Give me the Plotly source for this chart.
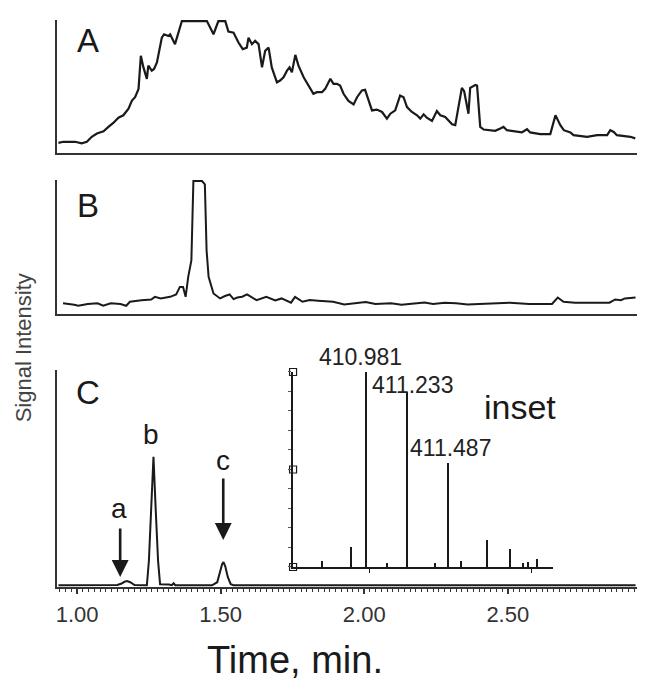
import plotly.graph_objects as go

# ---- data ----

# panel A: total ion trace (time in min, intensity in % of panel height)
time_a = [0.935, 0.952, 0.993, 1.016, 1.034, 1.051, 1.069, 1.092, 1.109, 1.126,
          1.144, 1.161, 1.179, 1.191, 1.202, 1.214, 1.222, 1.231, 1.243, 1.248,
          1.260, 1.268, 1.278, 1.283, 1.295, 1.303, 1.318, 1.324, 1.341, 1.365,
          1.452, 1.475, 1.492, 1.516, 1.527, 1.545, 1.562, 1.577, 1.591, 1.597,
          1.609, 1.620, 1.632, 1.644, 1.655, 1.667, 1.678, 1.696, 1.707, 1.719,
          1.731, 1.740, 1.748, 1.760, 1.771, 1.789, 1.806, 1.823, 1.835, 1.853,
          1.864, 1.882, 1.893, 1.905, 1.916, 1.928, 1.945, 1.963, 1.975, 1.992,
          2.003, 2.015, 2.027, 2.044, 2.062, 2.079, 2.091, 2.108, 2.125, 2.137,
          2.149, 2.166, 2.184, 2.195, 2.207, 2.218, 2.236, 2.253, 2.265, 2.282,
          2.306, 2.317, 2.329, 2.340, 2.348, 2.363, 2.369, 2.387, 2.393, 2.404,
          2.416, 2.456, 2.474, 2.485, 2.497, 2.549, 2.567, 2.578, 2.613, 2.648,
          2.666, 2.683, 2.695, 2.718, 2.729, 2.776, 2.811, 2.846, 2.857, 2.869,
          2.880, 2.903, 2.927, 2.944]
intensity_a = [7.7, 8.5, 8.5, 7.3, 8.5, 12.3, 14.8, 16.5, 19.8, 22.8,
               26.8, 28.6, 33.6, 39.8, 42.3, 48.6, 73.7, 64.9, 56.2, 66.2,
               62.4, 63.7, 68.6, 73.7, 87.4, 90.0, 88.7, 90.0, 82.5, 100,
               100, 90.0, 100, 100, 92.0, 91.2, 83.7, 78.7, 79.9, 87.4,
               82.5, 85.0, 82.5, 64.9, 77.4, 79.9, 64.9, 53.6, 54.9, 57.4,
               62.4, 64.9, 61.1, 74.4, 66.2, 57.4, 51.1, 44.9, 46.1, 46.1,
               48.6, 56.2, 52.4, 52.4, 51.1, 44.9, 39.5, 36.8, 42.3, 47.4,
               47.9, 39.8, 32.3, 32.9, 31.1, 26.1, 29.8, 32.3, 43.6, 42.3,
               34.8, 31.1, 28.6, 26.1, 29.3, 26.8, 24.3, 31.8, 28.6, 27.3,
               21.8, 21.1, 34.8, 49.4, 46.8, 29.8, 49.4, 51.6, 51.1, 19.8,
               17.8, 16.8, 18.6, 19.8, 17.3, 15.6, 18.0, 15.6, 14.3, 14.3,
               28.6, 21.1, 17.3, 15.6, 13.5, 12.3, 13.5, 13.5, 17.3, 16.0,
               13.5, 13.0, 12.3, 11.1]

# panel B: extracted ion trace
time_b = [0.951, 0.977, 0.990, 1.004, 1.020, 1.037, 1.071, 1.091, 1.117, 1.151,
          1.171, 1.184, 1.224, 1.258, 1.271, 1.291, 1.324, 1.345, 1.358, 1.369,
          1.378, 1.387, 1.398, 1.405, 1.435, 1.445, 1.451, 1.458, 1.475, 1.498,
          1.515, 1.531, 1.545, 1.558, 1.575, 1.592, 1.625, 1.659, 1.690, 1.712,
          1.745, 1.759, 1.785, 1.810, 1.839, 1.892, 1.930, 1.972, 2.005, 2.039,
          2.093, 2.130, 2.173, 2.210, 2.240, 2.280, 2.320, 2.360, 2.400, 2.450,
          2.507, 2.574, 2.654, 2.674, 2.694, 2.734, 2.801, 2.854, 2.874, 2.894,
          2.908, 2.945]
intensity_b = [8.0, 7.5, 7.0, 6.2, 7.0, 7.5, 8.0, 6.2, 8.0, 7.5,
               6.2, 9.2, 10.4, 10.9, 12.9, 11.7, 12.9, 14.7, 20.4, 20.4,
               12.9, 27.9, 40.3, 100, 100, 97.5, 47.8, 27.9, 15.4, 11.7,
               13.5, 14.7, 11.2, 12.4, 13.0, 14.7, 10.4, 12.9, 10.2, 11.7,
               8.5, 12.9, 9.2, 10.5, 10.0, 9.2, 7.2, 8.5, 9.0, 7.5,
               8.0, 7.0, 8.0, 8.6, 7.5, 8.4, 8.0, 7.2, 7.5, 8.2,
               8.5, 7.5, 7.5, 12.4, 9.2, 8.5, 8.5, 8.5, 10.9, 10.4,
               11.7, 12.4]

# panel C: MRM trace with peaks a, b, c
time_c = [0.935, 1.100, 1.140, 1.155, 1.165, 1.174, 1.185, 1.200, 1.243, 1.250,
          1.258, 1.266, 1.274, 1.282, 1.289, 1.300, 1.320, 1.330, 1.336, 1.342,
          1.470, 1.488, 1.497, 1.505, 1.510, 1.516, 1.525, 1.535, 1.545, 2.945]
intensity_c = [0.8, 0.8, 0.9, 1.6, 2.4, 2.7, 2.2, 0.9, 0.8, 12.0,
               35.0, 60.0, 35.0, 12.0, 1.3, 1.3, 1.1, 0.8, 1.7, 0.8,
               0.8, 2.2, 6.5, 10.5, 11.5, 9.5, 4.5, 1.3, 0.8, 0.8]

# inset: mass spectrum
inset_mz = [410.710, 410.888, 410.981, 411.110, 411.233, 411.410, 411.487,
            411.570, 411.730, 411.870, 411.950, 411.980, 412.040]
inset_intensity = [3, 10, 100, 2, 89.7, 2, 53.3, 3, 14, 9, 2, 2.5, 4]
inset_marker_levels = [0, 50, 100]

INK = "#1a1a1a"
AXIS = "#333333"
FONT = "Liberation Sans, Arial, sans-serif"

fig = go.Figure()

fig.add_trace(go.Scatter(x=time_a, y=intensity_a, mode="lines",
                         line=dict(color=INK, width=2.2), xaxis="x", yaxis="y"))
fig.add_trace(go.Scatter(x=time_b, y=intensity_b, mode="lines",
                         line=dict(color=INK, width=2.0), xaxis="x2", yaxis="y2"))
fig.add_trace(go.Scatter(x=time_c, y=intensity_c, mode="lines",
                         line=dict(color=INK, width=2.0), xaxis="x3", yaxis="y3"))

# inset spectrum sticks
fig.add_trace(go.Bar(x=inset_mz, y=inset_intensity, width=0.008,
                     marker=dict(color=INK, line=dict(width=0)),
                     xaxis="x4", yaxis="y4"))
fig.add_trace(go.Scatter(x=[410.53] * len(inset_marker_levels), y=inset_marker_levels,
                         mode="markers", cliponaxis=False,
                         marker=dict(symbol="square-open", size=7,
                                     color=INK, line=dict(width=1.2)),
                         xaxis="x4", yaxis="y4"))

t_range = [0.93, 2.95]
base_x = dict(range=t_range, showgrid=False, zeroline=False, showline=True,
              linecolor=AXIS, linewidth=2, fixedrange=True)
base_y = dict(showgrid=False, zeroline=False, showline=True, linecolor=AXIS,
              linewidth=2, showticklabels=False, ticks="", fixedrange=True)

# page body has an 8px margin, so the figure is sized/offset to fit the window
fig.update_layout(
    width=636, height=673,
    margin=dict(l=49, r=7, t=12, b=94),
    paper_bgcolor="white", plot_bgcolor="white",
    showlegend=False,
    font=dict(family=FONT, color=INK),
    bargap=0,
    xaxis=dict(base_x, anchor="y", showticklabels=False, ticks=""),
    yaxis=dict(base_y, domain=[0.7654, 1.0], range=[0, 100.8], anchor="x"),
    xaxis2=dict(base_x, anchor="y2", showticklabels=False, ticks=""),
    yaxis2=dict(base_y, domain=[0.4815, 0.7178], range=[0, 100.8], anchor="x2"),
    xaxis3=dict(base_x, anchor="y3", tickmode="linear", tick0=1.0, dtick=0.5,
                tickformat=".2f", ticks="outside", ticklen=5, tickwidth=1.5,
                tickcolor=AXIS, ticklabelstandoff=2,
                tickfont=dict(size=22, color="#333333", family=FONT),
                minor=dict(dtick=0.02, tick0=1.0, ticks="outside", ticklen=3,
                           tickwidth=1, tickcolor=AXIS)),
    yaxis3=dict(base_y, domain=[0.0, 0.3827], range=[0, 100], anchor="x3",
                linewidth=1.5),
    xaxis4=dict(domain=[0.407, 0.855], range=[410.53, 412.135], anchor="y4",
                showgrid=False, zeroline=False, showline=True, linecolor=INK,
                linewidth=1.5, showticklabels=False, ticks="outside",
                tickmode="linear", tick0=411, dtick=1, ticklen=4,
                tickcolor=INK, fixedrange=True),
    yaxis4=dict(domain=[0.0353, 0.3792], range=[0, 100], anchor="x4",
                showgrid=False, zeroline=False, showline=True, linecolor=INK,
                linewidth=1.5, showticklabels=False, ticks="outside",
                tickmode="linear", tick0=0, dtick=10, ticklen=3,
                tickcolor="#555555", fixedrange=True),
)

ann = []
centered = dict(xanchor="center", yanchor="middle", showarrow=False)

# panel letters
for label, py in [("A", 0.9647), ("B", 0.6737), ("C", 0.3422)]:
    ann.append(dict(centered, text=label, xref="paper", yref="paper", x=0.054, y=py,
                    font=dict(size=33, color=INK)))

# peak letters in panel C
for label, tx, iy in [("a", 1.146, 36.4), ("b", 1.258, 70.5), ("c", 1.509, 58.5)]:
    ann.append(dict(centered, text=label, xref="x3", yref="y3", x=tx, y=iy,
                    font=dict(size=28, color=INK)))

# arrows to peaks a and c
for tx, iy, tail in [(1.150, 4.6, -50), (1.509, 21.7, -63)]:
    ann.append(dict(text="", xref="x3", yref="y3", x=tx, y=iy, ax=0, ay=tail,
                    showarrow=True, arrowhead=2, arrowsize=1.3, arrowwidth=2.6,
                    arrowcolor=INK))

# inset labels
ann.append(dict(text="410.981", xref="x4", yref="y4", x=410.944, y=100,
                xanchor="center", yanchor="bottom", showarrow=False,
                font=dict(size=23, color="#222222")))
for label, mz, iy in [("411.233", 411.265, 93.3), ("411.487", 411.500, 61)]:
    ann.append(dict(centered, text=label, xref="x4", yref="y4", x=mz, y=iy,
                    font=dict(size=23, color="#222222")))
ann.append(dict(centered, text="inset", xref="x4", yref="y4", x=411.932, y=82,
                font=dict(size=34, color=INK)))

# axis titles
ann.append(dict(centered, text="Time, min.", xref="paper", yref="paper", x=0.41,
                y=-0.129, font=dict(size=38, color=INK)))
ann.append(dict(centered, text="Signal Intensity", xref="paper", yref="paper",
                x=-0.058, y=0.4215, textangle=-90,
                font=dict(size=22, color="#444444")))

fig.update_layout(annotations=ann)

fig.write_html("out.html", config={"displayModeBar": False})
